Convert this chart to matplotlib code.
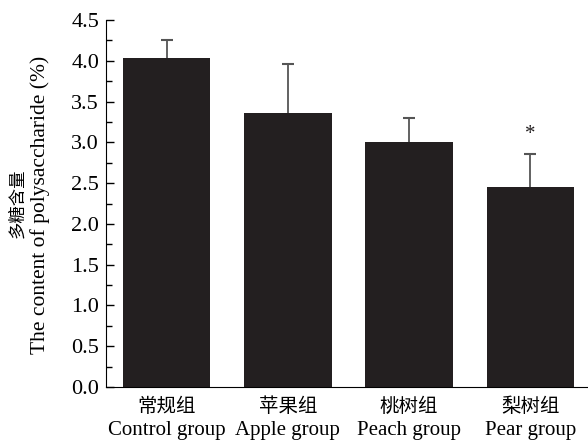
import numpy as np
import matplotlib
matplotlib.use('Agg')
import matplotlib.pyplot as plt
from matplotlib.ticker import MultipleLocator

plt.rcParams['font.family'] = ['Liberation Serif', 'Noto Sans CJK SC']

# Contenido de polisacaridos por grupo (media y desvio)
grupos_cn = ['常规组', '苹果组', '桃树组', '梨树组']
grupos_en = ['Control group', 'Apple group', 'Peach group', 'Pear group']
medias = [4.04, 3.36, 3.00, 2.45]
desvios = [0.21, 0.60, 0.30, 0.41]
marcas = ['', '', '', '*']

x = np.arange(len(medias))

fig = plt.figure(figsize=(5.88, 4.44), dpi=100)
ax = fig.add_axes([106 / 588, 57 / 444, 482 / 588, 367 / 444])

# Barras de error por debajo de las barras para que solo se vea la parte de arriba
ax.errorbar(x, medias, yerr=desvios, fmt='none', ecolor='#555555',
            elinewidth=1.3, capsize=4, capthick=1.5, zorder=1)
ax.bar(x, medias, width=0.72, color='#231f20', zorder=2)

for i in range(len(medias)):
    if marcas[i]:
        ax.text(x[i], medias[i] + desvios[i] + 0.12, marcas[i], ha='center',
                va='bottom', fontsize=15, color='#231f20')

ax.set_xlim(-0.5, 3.475)
ax.set_ylim(0, 4.5)
ax.yaxis.set_major_locator(MultipleLocator(0.5))
ax.yaxis.set_minor_locator(MultipleLocator(0.25))
ax.set_yticklabels(['{:.1f}'.format(v) for v in ax.get_yticks()])
ax.tick_params(axis='y', which='major', direction='in', length=6, width=1,
               labelsize=16, pad=5)
ax.tick_params(axis='y', which='minor', direction='in', length=4, width=1)
ax.set_xticks(x)
ax.set_xticklabels([])
ax.tick_params(axis='x', length=0)

# Etiquetas de los grupos en dos renglones: chino arriba, ingles abajo
for i in range(len(x)):
    ax.text(x[i], -0.245, grupos_cn[i], ha='center', va='center',
            fontsize=14, clip_on=False)
    ax.text(x[i], -0.53, grupos_en[i], ha='center', va='center',
            fontsize=15, clip_on=False)

ax.spines['top'].set_visible(False)
ax.spines['right'].set_visible(False)

fig.text(18 / 588, 1 - 203 / 444, '多糖含量', rotation=90, ha='center',
         va='center', fontsize=12.5)
fig.text(40 / 588, 1 - 205 / 444, 'The content of polysaccharide (%)',
         rotation=90, ha='center', va='center', fontsize=15.5)

fig.savefig('out.png', dpi=100)
